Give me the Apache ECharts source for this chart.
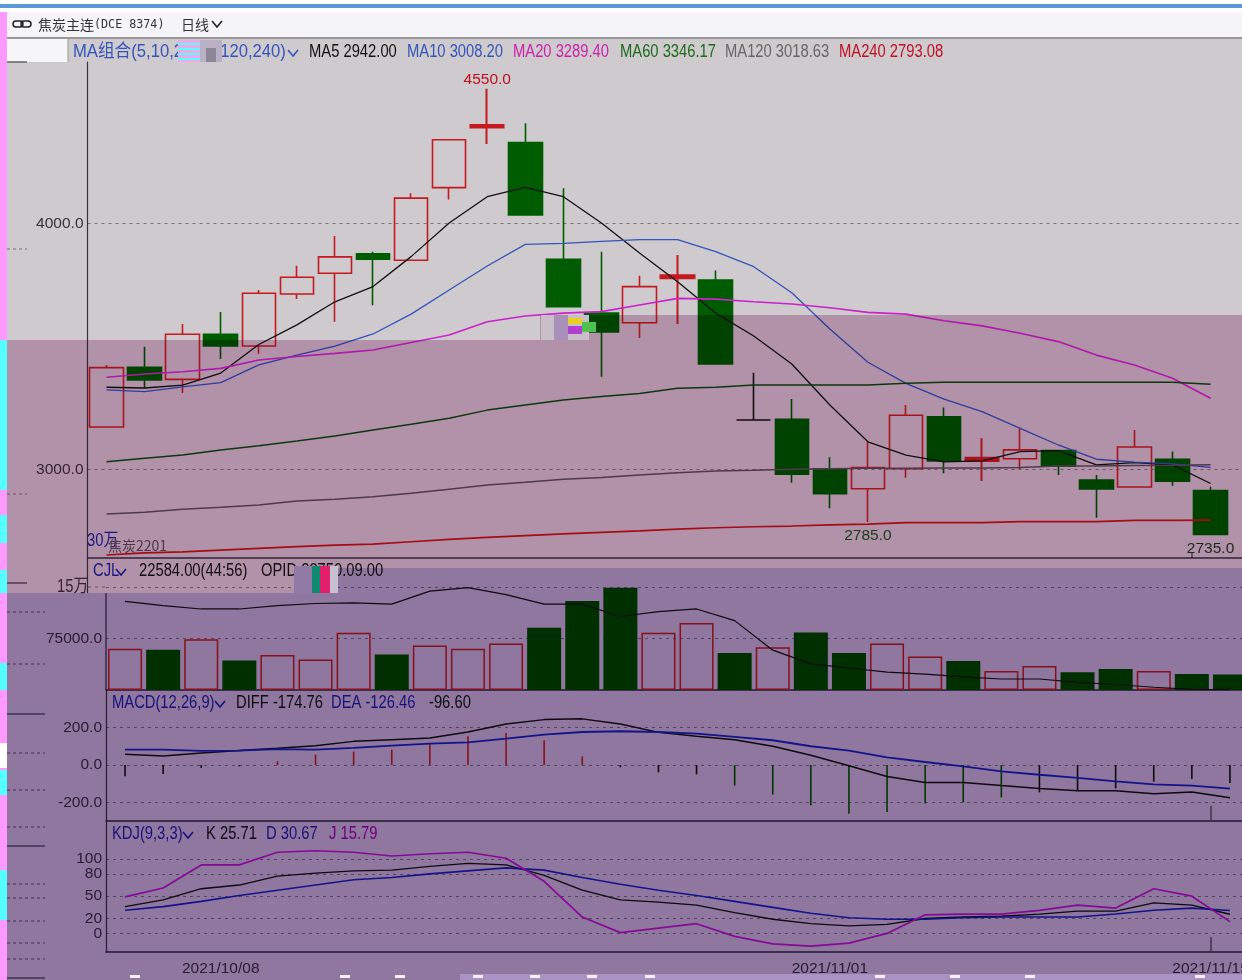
<!DOCTYPE html>
<html><head><meta charset="utf-8"><style>html,body{margin:0;padding:0;background:#fff;overflow:hidden}#c{width:1242px;height:980px}</style>
<script src="https://cdn.jsdelivr.net/npm/echarts@6/dist/echarts.min.js"></script></head><body><div id="c"></div>
<script>
const dates=['2021/09/28','2021/09/29','2021/09/30','2021/10/08','2021/10/11','2021/10/12','2021/10/13','2021/10/14','2021/10/15','2021/10/18','2021/10/19','2021/10/20','2021/10/21','2021/10/22','2021/10/25','2021/10/26','2021/10/27','2021/10/28','2021/10/29','2021/11/01','2021/11/02','2021/11/03','2021/11/04','2021/11/05','2021/11/08','2021/11/09','2021/11/10','2021/11/11','2021/11/12','2021/11/15'];
// open, close, low, high
const ohlc=[[3172,3414,3172,3425],[3415,3364,3331,3499],[3366,3550,3311,3592],[3550,3502,3449,3640],[3502,3717,3470,3730],[3714,3782,3693,3829],[3798,3865,3601,3950],[3878,3855,3668,3886],[3851,4104,3851,4124],[4147,4342,4099,4345],[4392,4402,4325,4550],[4330,4036,4036,4409],[3855,3662,3662,4144],[3636,3559,3377,3886],[3597,3744,3535,3788],[3778,3790,3592,3873],[3771,3429,3429,3809],[3201,3201,3201,3393],[3204,2980,2945,3286],[3001,2901,2841,3049],[2921,3007,2785,3112],[3002,3220,2966,3262],[3214,3034,2984,3252],[3034,3047,2952,3126],[3043,3079,3000,3167],[3076,3013,2977,3076],[2956,2920,2803,2977],[2928,3091,2928,3160],[3041,2952,2933,3072],[2913,2735,2735,2929]];
const ma5=[3334,3331,3343,3392,3508,3588,3682,3744,3866,4003,4110,4148,4110,4003,3881,3764,3636,3543,3429,3262,3112,3058,3030,3034,3072,3076,3018,3027,3018,2942];
const ma10=[3323,3316,3336,3353,3425,3465,3502,3551,3632,3730,3828,3916,3920,3928,3935,3935,3886,3825,3719,3571,3436,3350,3286,3235,3167,3099,3041,3029,3022,3008];
const ma20=[3375,3388,3397,3411,3445,3459,3472,3486,3516,3547,3601,3624,3636,3642,3669,3696,3693,3682,3673,3658,3639,3632,3605,3584,3554,3520,3465,3425,3371,3289];
const ma60=[3031,3045,3058,3079,3096,3115,3136,3160,3183,3208,3241,3262,3282,3296,3309,3330,3334,3343,3343,3343,3343,3350,3354,3354,3354,3354,3354,3354,3354,3346];
const ma120=[2818,2825,2837,2845,2855,2871,2878,2888,2902,2919,2936,2947,2959,2967,2977,2986,2993,2996,3000,3002,3004,3004,3005,3005,3007,3013,3013,3015,3016,3019];
const ma240=[2651,2660,2664,2671,2678,2685,2691,2695,2705,2715,2723,2730,2737,2743,2749,2756,2762,2766,2769,2774,2777,2783,2783,2783,2787,2787,2787,2792,2792,2793];
const volume=[59900,58440,74000,42860,51100,44300,83300,51600,64800,59900,67700,90600,129500,149000,83300,97400,54000,62300,83800,54000,67700,48700,42400,27800,35000,25800,30700,27800,23400,22584];
const volMa=[129000,123000,118000,118000,123000,126000,127000,125000,144000,149000,139000,125000,125000,107000,114000,118000,101000,58000,38000,32000,26000,23000,19000,16000,16000,11000,8000,4000,1000,500];
const diff=[57,48,64,77,89,103,126,135,144,176,219,242,246,219,174,153,135,100,52,-4,-61,-93,-93,-110,-126,-137,-137,-153,-144,-174.76];
const dea=[82,82,75,77,85,82,91,103,114,121,141,162,176,180,176,167,150,132,100,77,41,16,-7,-34,-52,-69,-87,-103,-110,-126.46];
const macd=[-60,-48,-16,-7,20,55,71,82,117,153,171,132,46,-12,-39,-50,-109,-158,-215,-260,-251,-206,-199,-173,-146,-137,-125,-89,-75,-96.6];
const kLine=[36,45,60,65,77,81,84,85,90,94,92,78,58,45,42,38,28,19,13,10,12,20,22,23,26,30,30,41,38,25.71];
const dLine=[31,36,43,51,58,65,72,75,80,84,88,85,75,66,58,51,43,35,27,21,19,19,21,22,22,22,26,31,34,30.67];
const jLine=[49,61,92,92,109,111,109,104,107,109,101,70,22,1,7,13,-4,-14,-17,-13,0,25,26,26,31,38,34,60,50,15.79];
const mainTicks=[3000,4000], volLabels=[75000], volLines=[75000,150000], macdTicks=[-200,0,200], kdjTicks=[0,20,50,80,100];
const kdjMin=-25, kdjMax=151;
const dateLabelIdx=[3,19,29], thickDoji=[10,15,23];
const headText=[['MA组合(5,10,20,60,120,240)',73,'#3355bb',0.925],['MA5 2942.00',309,'#111'],['MA10 3008.20',407,'#3355bb'],['MA20 3289.40',513,'#cc22aa'],['MA60 3346.17',620,'#1a6b1a'],['MA120 3018.63',725,'#666'],['MA240 2793.08',839,'#c01020']];
const volText=[['CJL',93,'#1e1e9c'],['22584.00(44:56)',139,'#111'],['OPID 23750.09.00',261,'#111']];
const macdText=[['MACD(12,26,9)',112,'#1e1e9c'],['DIFF -174.76',236,'#111'],['DEA -126.46',331,'#1e1e9c'],['-96.60',429,'#111']];
const kdjText=[['KDJ(9,3,3)',112,'#1e1e9c'],['K 25.71',206,'#111'],['D 30.67',266,'#1e1e9c'],['J 15.79',329,'#a000a0']];

const F='"Liberation Sans","Noto Sans CJK SC",sans-serif';
const AXF=15.5;
const RED='#c41a20',GREEN='#005c00';
const cats=dates.concat(['']);
const isUp=ohlc.map(d=>d[1]>=d[0]);
const bandMain=38.07,bandLow=38.1;
const grids=[
 {left:87.5,top:62,width:bandMain*31,height:496},
 {left:106,top:568,width:bandLow*30,height:122},
 {left:106,top:690,width:bandLow*30,height:131},
 {left:106,top:821,width:bandLow*30,height:131}];
const axisCommon=(i,extra)=>Object.assign({type:'category',gridIndex:i,data:i?dates:cats,axisTick:{show:false},axisLabel:{show:false},axisLine:{show:true,onZero:false,lineStyle:{color:'#2f2540',width:1.5}}},extra||{});
const yAxisCommon=(i,min,max,custom,labelCustom,fmt,line)=>({type:'value',gridIndex:i,min,max,scale:false,
  axisLine:{show:line,lineStyle:{color:'#3a3040',width:1.2}},axisTick:{show:false,customValues:custom},
  axisLabel:{show:true,customValues:labelCustom,hideOverlap:false,showMinLabel:true,showMaxLabel:true,formatter:fmt,color:'#3a3040',fontFamily:F,fontSize:AXF,margin:4,padding:[3,0,0,0]},
  splitLine:{show:true,lineStyle:{type:[3,4],color:'#77737a',width:1}}});
const line=(x,y,d,c,w)=>({type:'line',xAxisIndex:x,yAxisIndex:x,data:d,symbol:'none',silent:true,lineStyle:{color:c,width:w||1.3},z:5});

const gfx=[];
const rect=(x,y,w,h,fill,z,extra)=>gfx.push({type:'rect',silent:true,z,shape:{x,y,width:w,height:h},style:Object.assign({fill},extra||{})});
const seg=(x1,y1,x2,y2,stroke,z,dash,w)=>gfx.push({type:'line',silent:true,z,shape:{x1,y1,x2,y2},style:{stroke,lineWidth:w||1,lineDash:dash||null}});
const txt=(s,x,y,fill,z,font,sx)=>gfx.push({type:'text',silent:true,z,x,y,scaleX:sx||0.82,style:{text:s,fill,font:font||('18px '+F),textVerticalAlign:'middle'}});
const chev=(x,y,c,z)=>gfx.push({type:'polyline',silent:true,z,shape:{points:[[x,y-3],[x+5,y+3],[x+10,y-3]]},style:{stroke:c,lineWidth:1.6,fill:null}});
// page chrome and base colour
rect(0,0,1242,980,'#ffffff',-20);
rect(0,4,1242,4,'#5b9bd5',-19);
rect(7,12,1235,26,'#f5f5f9',-19);
rect(7,39,1235,941,'#cecacd',-19);
rect(7,39,61,23,'#f7f7fa',-18);
seg(7,38,1242,38,'#777',-17,null,1.5);
seg(68,39,68,62,'#999',-17);
// tint over the lower parts (multiply, so marks darken with it)
const PINK='#dcb8d3',PURP='#b196c6';
const M={blend:'multiply'};
rect(7,340,287,253,PINK,60,M);
rect(294,340,246,228,PINK,60,M);
rect(540,315,702,253,PINK,60,M);
rect(7,593,287,387,PURP,60,M);
rect(294,568,948,412,PURP,60,M);
// faint ghost ticks in left column
[[249,27],[494,27]].forEach(a=>seg(7,a[0],a[1],a[0],'#77737a',30,[3,3]));
seg(7,62,27,62,'#666',30,null,1.5);seg(7,583,27,583,'#3a3040',30,null,1.2);
[612,664,753,790,827,884,898,921,943,959].forEach(y=>seg(7,y,45,y,'#5b5568',30,[3,3]));
[714,846,978].forEach(y=>seg(7,y,45,y,'#241c33',30,null,1.2));
// axis pieces
seg(87.5,558,87.5,593,'#3a3040',30,null,1.2);
seg(106,593,106,690,'#2f2540',30,null,1.2);
seg(88,587,106,587,'#77737a',30,[3,4]);
seg(1211,806,1211,820,'#222',30);seg(1211,937,1211,951,'#222',30);seg(1192,553,1192,558,'#222',30);
// header
gfx.push({type:'rect',silent:true,z:30,shape:{x:13,y:21,width:10,height:6,r:3},style:{fill:null,stroke:'#222',lineWidth:1.5}});
gfx.push({type:'rect',silent:true,z:30,shape:{x:21,y:21,width:10,height:6,r:3},style:{fill:null,stroke:'#222',lineWidth:1.5}});
txt('焦炭主连',38,25,'#333',30,'14px "Noto Sans CJK SC"',1);
txt('(DCE 8374)',94,25,'#333',30,'13px "DejaVu Sans Mono"',0.9);
txt('日线',181,25,'#333',30,'14px "Noto Sans CJK SC"',1);
chev(212,24,'#222',30);
headText.forEach(t=>txt(t[0],t[1],52,t[2],30,null,t[3]));chev(288,53,'#3355bb',30);
volText.forEach(t=>txt(t[0],t[1],571,t[2],30));chev(116,572,'#1e1e9c',30);
macdText.forEach(t=>txt(t[0],t[1],703,t[2],30));chev(215,704,'#1e1e9c',30);
kdjText.forEach(t=>txt(t[0],t[1],834,t[2],30));chev(183,835,'#1e1e9c',30);
txt('15万',57,587,'#3a3040',30);
txt('30万',87,541,'#1e1e9c',30);
txt('焦炭2201',108,546,'#5a4a5a',30,'14px "Noto Sans CJK SC"',1);
// edge strip and scan noise
rect(0,12,7,968,'#ff99ff',70);
[[340,150,'#55ffff'],[515,28,'#55ffff'],[570,23,'#55ffff'],[663,27,'#55ffff'],[770,25,'#55ffff'],[870,50,'#55ffff'],[743,25,'#ffffff']].forEach(a=>rect(0,a[0],7,a[1],a[2],71));
rect(178,40,22,22,'#f2a8e6',72);[43,48,53,58].forEach(y=>rect(178,y,22,2,'#55ffff',73));
rect(200,40,22,22,'#b9b0c6',72);rect(206,48,10,14,'#8c8794',73);
rect(541,315,48,25,'#c9bfc9',61);rect(554,315,14,25,'#a890b8',72);rect(568,318,14,6,'#e8d020',72);rect(568,326,14,8,'#b040d0',72);rect(582,322,14,10,'#50c050',72);
rect(294,566,20,27,'#8e7aa5',72);rect(312,566,8,27,'#0e8a70',72);rect(320,566,10,27,'#e0206a',72);rect(330,566,8,27,'#c8c0d0',72);
rect(460,974,782,6,'#ab92c4',72);
[135,345,400,478,535,592,650,880,955,1030,1200].forEach(x=>rect(x-5,975,10,3,'#f4f0fa',73));

const chart=echarts.init(document.getElementById('c'),null,{renderer:'canvas'});
chart.setOption({
 animation:false,backgroundColor:'#ffffff',
 grid:grids.map(g=>Object.assign({show:false,outerBoundsMode:'none',containLabel:false},g)),
 xAxis:[
  axisCommon(0,{axisLabel:{show:true,color:'#3a3040',fontFamily:F,fontSize:AXF,margin:403,interval:(i)=>dateLabelIdx.includes(i)},axisLine:{show:true,onZero:false,lineStyle:{color:'#3a3040',width:1.5}}}),
  axisCommon(1),axisCommon(2),axisCommon(3)],
 yAxis:[
  yAxisCommon(0,2638.8,4658.5,mainTicks,mainTicks,v=>v.toFixed(1),true),
  yAxisCommon(1,0,177670,volLines,volLabels,v=>v.toFixed(1),false),
  yAxisCommon(2,-298.7,400,macdTicks,macdTicks,v=>v.toFixed(1),true),
  yAxisCommon(3,kdjMin,kdjMax,kdjTicks,[kdjMin].concat(kdjTicks,[kdjMax]),v=>kdjTicks.includes(v)?String(v):'',true)],
 graphic:{elements:gfx},
 series:[
  {type:'candlestick',xAxisIndex:0,yAxisIndex:0,barWidth:34,silent:true,z:3,
   data:ohlc.map((d,i)=>thickDoji.includes(i)?{value:d,itemStyle:{color:RED,borderWidth:2}}:d),
   itemStyle:{color:'transparent',color0:GREEN,borderColor:RED,borderColor0:GREEN,borderColorDoji:'#111',borderWidth:1.6},
   markPoint:{symbol:'circle',symbolSize:0,silent:true,label:{fontFamily:F,fontSize:AXF,position:'top',distance:2},
    data:[{coord:[10,4550],value:'4550.0',label:{color:'#c01020',position:'top',distance:1}},
          {coord:[20,2785],value:'2785.0',label:{color:'#1a5a1a',position:'bottom',distance:6}},
          {coord:[29,2735],value:'2735.0',label:{color:'#1a3a1a',position:'bottom',distance:7}}]}},
  line(0,0,ma5,'#111'),line(0,0,ma10,'#3355bb'),line(0,0,ma20,'#cc22cc',1.6),line(0,0,ma60,'#0e4d0e',1.5),line(0,0,ma120,'#59505a',1.5),line(0,0,ma240,'#c01018',1.7),
  {type:'bar',xAxisIndex:1,yAxisIndex:1,barWidth:34,silent:true,z:3,
   data:volume.map((v,i)=>({value:v,itemStyle:isUp[i]?{color:'transparent',borderColor:RED,borderWidth:1.5}:{color:'#004f00'}}))},
  line(1,1,volMa,'#111',1.2),
  line(2,2,diff,'#111',1.5),line(2,2,dea,'#1a22b0',1.8),
  {type:'bar',xAxisIndex:2,yAxisIndex:2,barWidth:1.6,silent:true,z:4,
   data:macd.map((v,i)=>({value:v,itemStyle:{color:v>0?RED:(i>15&&i<24?GREEN:'#111')}}))},
  line(3,3,kLine,'#111',1.3),line(3,3,dLine,'#1a22b0',1.6),line(3,3,jLine,'#c010c0',1.7)
 ]
});
</script></body></html>
